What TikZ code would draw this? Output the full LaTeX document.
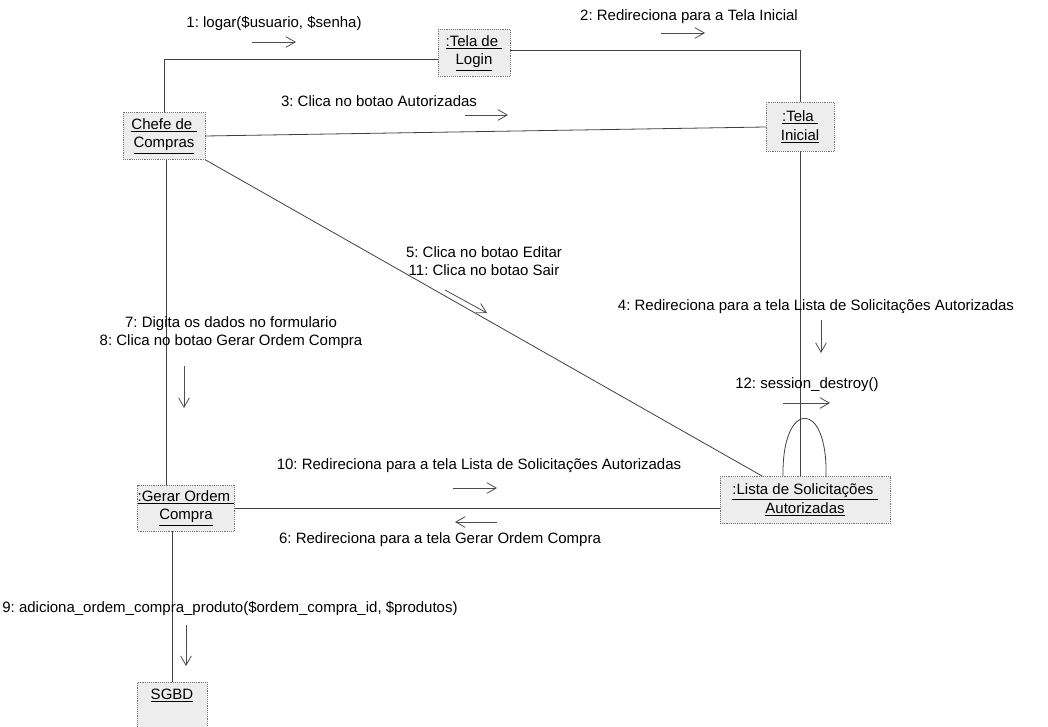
\documentclass[tikz,border=0pt]{standalone}
\usepackage{fontspec}
\setmainfont{Liberation Sans}
\usetikzlibrary{arrows.meta}
\frenchspacing
\begin{document}
\begin{tikzpicture}[x=0.75pt,y=-0.75pt,
  obj/.style={draw=black!55, densely dotted, fill=black!7, align=center, inner sep=0pt,
    font=\fontsize{11.25}{14}\selectfont},
  lbl/.style={align=center, inner sep=0pt, font=\fontsize{11.25}{13.5}\selectfont},
  conn/.style={draw=black!75, line width=0.6pt},
  msg/.style={draw=black!70, line width=0.6pt, -{Straight Barb[length=7pt,width=8pt]}}]
\useasboundingbox (0,0) rectangle (1048,727);

% objects
\node[obj, minimum width=61.5pt, minimum height=35.25pt] (chefe) at (164,136)
  {\underline{Chefe de\ }\\\underline{Compras}};
\node[obj, minimum width=54pt, minimum height=35.25pt] (login) at (474,53)
  {\underline{:Tela de\ }\\\underline{Login}};
\node[obj, minimum width=51pt, minimum height=36.75pt] (inicial) at (800,127)
  {\underline{:Tela\ }\\\underline{Inicial}};
\node[obj, minimum width=61.5pt, minimum height=34.5pt] (gerar) at (186,508)
  {\underline{:Gerar Ordem\ }\\\underline{Compra}};
\node[obj, minimum width=127.5pt, minimum height=35.25pt] (lista) at (805,500)
  {\underline{:Lista de Solicitações\ }\\\underline{Autorizadas}};
\node[obj, minimum width=52.5pt, minimum height=36pt, anchor=north] (sgbd) at (172,682)
  {\underline{SGBD}\\\strut};

% links
\draw[conn] (chefe.north) |- ([yshift=-4.5pt]login.west);
\draw[conn] ([yshift=2pt]login.east) -| (inicial.north);
\draw[conn] (chefe.east) -- (inicial.west);
\draw[conn] (inicial.south) -- (inicial.south |- lista.north);
\draw[conn] ([xshift=1.5pt]chefe.south) -- ([xshift=1.5pt]chefe.south |- gerar.north);
\draw[conn] (sgbd.north) -- (sgbd.north |- gerar.south);
\draw[conn] (gerar.east) -- (gerar.east -| lista.west);
\draw[conn] (chefe.south east) -- ([xshift=32pt]lista.north west);
\draw[conn] ([xshift=-16.5pt]lista.north) .. controls +(-1pt,58pt) and +(1.5pt,58pt) .. ([xshift=15.75pt]lista.north);

% message labels
\node[lbl] (l1) at (274,24) {1: logar(\$usuario, \$senha)};
\node[lbl] (l2) at (689,17) {2: Redireciona para a Tela Inicial};
\node[lbl] (l3) at (379,101) {3: Clica no botao Autorizadas};
\node[lbl] (l4) at (816,307) {4: Redireciona para a tela Lista de Solicitações Autorizadas};
\node[lbl] (l5) at (484,261) {5: Clica no botao Editar\\11: Clica no botao Sair};
\node[lbl] (l7) at (231,333) {7: Digita os dados no formulario\\8: Clica no botao Gerar Ordem Compra};
\node[lbl] (l9) at (230,608) {9: adiciona\_ordem\_compra\_produto(\$ordem\_compra\_id, \$produtos)};
\node[lbl] (l10) at (479,466) {10: Redireciona para a tela Lista de Solicitações Autorizadas};
\node[lbl] (l6) at (440,540) {6: Redireciona para a tela Gerar Ordem Compra};
\node[lbl] (l12) at (807,385) {12: session\_destroy()};

% message arrows
\coordinate (a1s) at (252,42);  \coordinate (a1e) at (296,42);
\coordinate (a2s) at (661,33);  \coordinate (a2e) at (705,33);
\coordinate (a3s) at (465,115); \coordinate (a3e) at (508,115);
\coordinate (a4s) at (821,320); \coordinate (a4e) at (821,353);
\coordinate (a5s) at (445,290); \coordinate (a5e) at (487,313);
\coordinate (a7s) at (184,366); \coordinate (a7e) at (184,408);
\coordinate (a9s) at (186,625); \coordinate (a9e) at (186,666);
\coordinate (a10s) at (453,488); \coordinate (a10e) at (497,488);
\coordinate (a6s) at (497,522); \coordinate (a6e) at (455,522);
\coordinate (a12s) at (783,403); \coordinate (a12e) at (830,403);
\foreach \m in {1,2,3,4,5,7,9,10,6,12}
  \draw[msg] (a\m s) -- (a\m e);
\end{tikzpicture}
\end{document}
